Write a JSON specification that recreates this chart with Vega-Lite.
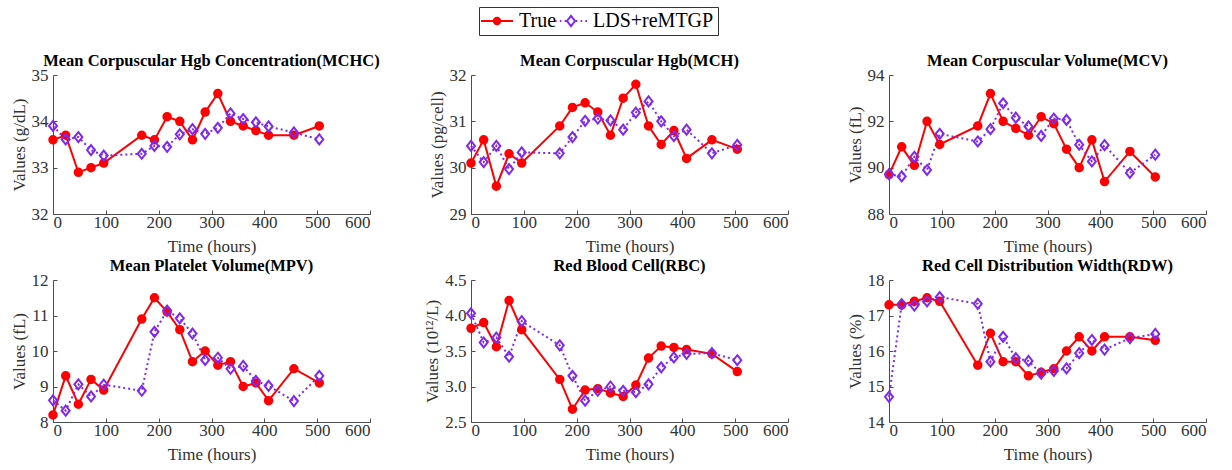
{
  "$schema": "https://vega.github.io/schema/vega-lite/v6.json",
  "padding": {"left": 10, "top": 6, "right": 5, "bottom": 5},
  "background": "white",
  "datasets": {
    "d": [
      {"m":"MCHC","t":0,"True":33.6,"LDS+reMTGP":33.9},
      {"m":"MCHC","t":24,"True":33.7,"LDS+reMTGP":33.61},
      {"m":"MCHC","t":48,"True":32.9,"LDS+reMTGP":33.66},
      {"m":"MCHC","t":72,"True":33.0,"LDS+reMTGP":33.38},
      {"m":"MCHC","t":96,"True":33.1,"LDS+reMTGP":33.26},
      {"m":"MCHC","t":168,"True":33.7,"LDS+reMTGP":33.3},
      {"m":"MCHC","t":192,"True":33.6,"LDS+reMTGP":33.47},
      {"m":"MCHC","t":216,"True":34.1,"LDS+reMTGP":33.45},
      {"m":"MCHC","t":240,"True":34.0,"LDS+reMTGP":33.72},
      {"m":"MCHC","t":264,"True":33.6,"LDS+reMTGP":33.83},
      {"m":"MCHC","t":288,"True":34.2,"LDS+reMTGP":33.73},
      {"m":"MCHC","t":312,"True":34.6,"LDS+reMTGP":33.86},
      {"m":"MCHC","t":336,"True":34.0,"LDS+reMTGP":34.17},
      {"m":"MCHC","t":360,"True":33.9,"LDS+reMTGP":34.05},
      {"m":"MCHC","t":384,"True":33.8,"LDS+reMTGP":33.98},
      {"m":"MCHC","t":408,"True":33.7,"LDS+reMTGP":33.89},
      {"m":"MCHC","t":456,"True":33.7,"LDS+reMTGP":33.76},
      {"m":"MCHC","t":504,"True":33.9,"LDS+reMTGP":33.61},
      {"m":"MCH","t":0,"True":30.1,"LDS+reMTGP":30.47},
      {"m":"MCH","t":24,"True":30.6,"LDS+reMTGP":30.12},
      {"m":"MCH","t":48,"True":29.6,"LDS+reMTGP":30.47},
      {"m":"MCH","t":72,"True":30.3,"LDS+reMTGP":29.97},
      {"m":"MCH","t":96,"True":30.1,"LDS+reMTGP":30.33},
      {"m":"MCH","t":168,"True":30.9,"LDS+reMTGP":30.31},
      {"m":"MCH","t":192,"True":31.3,"LDS+reMTGP":30.66},
      {"m":"MCH","t":216,"True":31.4,"LDS+reMTGP":31.01},
      {"m":"MCH","t":240,"True":31.2,"LDS+reMTGP":31.06},
      {"m":"MCH","t":264,"True":30.7,"LDS+reMTGP":31.02},
      {"m":"MCH","t":288,"True":31.5,"LDS+reMTGP":30.82},
      {"m":"MCH","t":312,"True":31.8,"LDS+reMTGP":31.19},
      {"m":"MCH","t":336,"True":30.9,"LDS+reMTGP":31.43},
      {"m":"MCH","t":360,"True":30.5,"LDS+reMTGP":31.0},
      {"m":"MCH","t":384,"True":30.8,"LDS+reMTGP":30.68},
      {"m":"MCH","t":408,"True":30.2,"LDS+reMTGP":30.82},
      {"m":"MCH","t":456,"True":30.6,"LDS+reMTGP":30.31},
      {"m":"MCH","t":504,"True":30.4,"LDS+reMTGP":30.49},
      {"m":"MCV","t":0,"True":89.7,"LDS+reMTGP":89.72},
      {"m":"MCV","t":24,"True":90.9,"LDS+reMTGP":89.62},
      {"m":"MCV","t":48,"True":90.1,"LDS+reMTGP":90.47},
      {"m":"MCV","t":72,"True":92.0,"LDS+reMTGP":89.9},
      {"m":"MCV","t":96,"True":91.0,"LDS+reMTGP":91.46},
      {"m":"MCV","t":168,"True":91.8,"LDS+reMTGP":91.13},
      {"m":"MCV","t":192,"True":93.2,"LDS+reMTGP":91.66},
      {"m":"MCV","t":216,"True":92.0,"LDS+reMTGP":92.78},
      {"m":"MCV","t":240,"True":91.7,"LDS+reMTGP":92.16},
      {"m":"MCV","t":264,"True":91.4,"LDS+reMTGP":91.78},
      {"m":"MCV","t":288,"True":92.2,"LDS+reMTGP":91.37},
      {"m":"MCV","t":312,"True":91.9,"LDS+reMTGP":92.12},
      {"m":"MCV","t":336,"True":90.8,"LDS+reMTGP":92.06},
      {"m":"MCV","t":360,"True":90.0,"LDS+reMTGP":90.99},
      {"m":"MCV","t":384,"True":91.2,"LDS+reMTGP":90.27},
      {"m":"MCV","t":408,"True":89.4,"LDS+reMTGP":90.97},
      {"m":"MCV","t":456,"True":90.7,"LDS+reMTGP":89.77},
      {"m":"MCV","t":504,"True":89.6,"LDS+reMTGP":90.56},
      {"m":"MPV","t":0,"True":8.2,"LDS+reMTGP":8.61},
      {"m":"MPV","t":24,"True":9.3,"LDS+reMTGP":8.32},
      {"m":"MPV","t":48,"True":8.5,"LDS+reMTGP":9.06},
      {"m":"MPV","t":72,"True":9.2,"LDS+reMTGP":8.72},
      {"m":"MPV","t":96,"True":8.9,"LDS+reMTGP":9.05},
      {"m":"MPV","t":168,"True":10.9,"LDS+reMTGP":8.88},
      {"m":"MPV","t":192,"True":11.5,"LDS+reMTGP":10.54},
      {"m":"MPV","t":216,"True":11.1,"LDS+reMTGP":11.14},
      {"m":"MPV","t":240,"True":10.6,"LDS+reMTGP":10.92},
      {"m":"MPV","t":264,"True":9.7,"LDS+reMTGP":10.49},
      {"m":"MPV","t":288,"True":10.0,"LDS+reMTGP":9.75},
      {"m":"MPV","t":312,"True":9.6,"LDS+reMTGP":9.81},
      {"m":"MPV","t":336,"True":9.7,"LDS+reMTGP":9.5},
      {"m":"MPV","t":360,"True":9.0,"LDS+reMTGP":9.58},
      {"m":"MPV","t":384,"True":9.1,"LDS+reMTGP":9.16},
      {"m":"MPV","t":408,"True":8.6,"LDS+reMTGP":9.02},
      {"m":"MPV","t":456,"True":9.5,"LDS+reMTGP":8.59},
      {"m":"MPV","t":504,"True":9.1,"LDS+reMTGP":9.3},
      {"m":"RBC","t":0,"True":3.82,"LDS+reMTGP":4.03},
      {"m":"RBC","t":24,"True":3.9,"LDS+reMTGP":3.62},
      {"m":"RBC","t":48,"True":3.56,"LDS+reMTGP":3.69},
      {"m":"RBC","t":72,"True":4.21,"LDS+reMTGP":3.42},
      {"m":"RBC","t":96,"True":3.8,"LDS+reMTGP":3.92},
      {"m":"RBC","t":168,"True":3.1,"LDS+reMTGP":3.58},
      {"m":"RBC","t":192,"True":2.68,"LDS+reMTGP":3.15},
      {"m":"RBC","t":216,"True":2.95,"LDS+reMTGP":2.8},
      {"m":"RBC","t":240,"True":2.97,"LDS+reMTGP":2.94},
      {"m":"RBC","t":264,"True":2.91,"LDS+reMTGP":3.0},
      {"m":"RBC","t":288,"True":2.86,"LDS+reMTGP":2.94},
      {"m":"RBC","t":312,"True":3.02,"LDS+reMTGP":2.92},
      {"m":"RBC","t":336,"True":3.4,"LDS+reMTGP":3.03},
      {"m":"RBC","t":360,"True":3.57,"LDS+reMTGP":3.27},
      {"m":"RBC","t":384,"True":3.55,"LDS+reMTGP":3.41},
      {"m":"RBC","t":408,"True":3.52,"LDS+reMTGP":3.46},
      {"m":"RBC","t":456,"True":3.46,"LDS+reMTGP":3.47},
      {"m":"RBC","t":504,"True":3.21,"LDS+reMTGP":3.37},
      {"m":"RDW","t":0,"True":17.3,"LDS+reMTGP":14.71},
      {"m":"RDW","t":24,"True":17.3,"LDS+reMTGP":17.32},
      {"m":"RDW","t":48,"True":17.4,"LDS+reMTGP":17.28},
      {"m":"RDW","t":72,"True":17.5,"LDS+reMTGP":17.4},
      {"m":"RDW","t":96,"True":17.4,"LDS+reMTGP":17.52},
      {"m":"RDW","t":168,"True":15.6,"LDS+reMTGP":17.33},
      {"m":"RDW","t":192,"True":16.5,"LDS+reMTGP":15.7},
      {"m":"RDW","t":216,"True":15.7,"LDS+reMTGP":16.4},
      {"m":"RDW","t":240,"True":15.7,"LDS+reMTGP":15.8},
      {"m":"RDW","t":264,"True":15.3,"LDS+reMTGP":15.72},
      {"m":"RDW","t":288,"True":15.4,"LDS+reMTGP":15.36},
      {"m":"RDW","t":312,"True":15.5,"LDS+reMTGP":15.44},
      {"m":"RDW","t":336,"True":16.0,"LDS+reMTGP":15.51},
      {"m":"RDW","t":360,"True":16.4,"LDS+reMTGP":15.94},
      {"m":"RDW","t":384,"True":16.0,"LDS+reMTGP":16.31},
      {"m":"RDW","t":408,"True":16.4,"LDS+reMTGP":16.04},
      {"m":"RDW","t":456,"True":16.4,"LDS+reMTGP":16.36},
      {"m":"RDW","t":504,"True":16.3,"LDS+reMTGP":16.48}
    ]
  },
  "data": {"name": "d"},
  "columns": 3,
  "spacing": {"row": 66, "column": 101},
  "bounds": "flush",
  "resolve": {"scale": {"y": "independent"}},
  "config": {
    "font": "Liberation Serif",
    "view": {"stroke": null},
    "axis": {
      "grid": false,
      "domainColor": "#4d4d4d",
      "tickColor": "#4d4d4d",
      "tickSize": -4,
      "labelFont": "Liberation Serif",
      "labelFontSize": 17,
      "labelColor": "#333333",
      "titleFont": "Liberation Serif",
      "titleFontSize": 17,
      "titleFontWeight": "normal",
      "titleColor": "#333333"
    },
    "axisX": {"labelPadding": 4, "titlePadding": 8},
    "axisY": {"titlePadding": 3, "labelPadding": 9},
    "title": {"font": "Liberation Serif", "fontSize": 16.5, "fontWeight": "bold", "color": "#000000", "offset": -3, "anchor": "middle"},
    "legend": {
      "labelFont": "Liberation Serif",
      "labelFontSize": 20,
      "labelColor": "#000000"
    }
  },
  "concat": [
    {
      "title": "Mean Corpuscular Hgb Concentration(MCHC)",
      "width": 317, "height": 139,
      "transform": [{"filter": "datum.m === 'MCHC'"}, {"fold": ["True", "LDS+reMTGP"], "as": ["series", "v"]}],
      "encoding": {
        "x": {"field": "t", "type": "quantitative", "scale": {"domain": [0, 600], "nice": false}, "axis": {"values": [0,100,200,300,400,500,600], "title": "Time (hours)"}},
        "y": {"field": "v", "type": "quantitative", "scale": {"domain": [32, 35], "nice": false, "zero": false}, "axis": {"values": [32,33,34,35], "title": "Values (g/dL)"}}
      },
      "layer": [
        {"transform": [{"filter": "datum.series === 'True'"}], "mark": {"type": "line", "color": "#ff0000", "strokeWidth": 2}, "encoding": {}},
        {"transform": [{"filter": "datum.series === 'LDS+reMTGP'"}], "mark": {"type": "line", "color": "#7f28f0", "strokeWidth": 2, "strokeDash": [2, 3]}, "encoding": {}},
        {"transform": [{"filter": "datum.series === 'True'"}], "mark": {"type": "point", "shape": "circle", "filled": true, "color": "#ff0000", "stroke": "#ff0000", "strokeWidth": 2, "size": 56, "opacity": 1}},
        {"transform": [{"filter": "datum.series === 'LDS+reMTGP'"}], "mark": {"type": "point", "shape": "M0,-1L0.8,0L0,1L-0.8,0Z", "filled": false, "color": "#7f28f0", "strokeWidth": 2, "size": 100, "opacity": 1}},
        {"mark": {"type": "point", "filled": false, "strokeWidth": 2, "opacity": 0},
         "encoding": {
           "color": {"field": "series", "type": "nominal", "scale": {"domain": ["True", "LDS+reMTGP"], "range": ["#ff0000", "#7f28f0"]},
             "legend": {"title": null, "orient": "none", "direction": "horizontal", "legendX": 426, "legendY": -68,
               "symbolSize": 256, "symbolStrokeWidth": 2, "symbolOpacity": 1, "symbolOffset": 4, "labelOffset": 12, "columnPadding": -18, "padding": 4,
               "strokeColor": "#333333", "fillColor": "white"}},
           "fill": {"field": "series", "type": "nominal", "scale": {"domain": ["True", "LDS+reMTGP"], "range": ["#ff0000", "transparent"]}, "legend": null},
           "shape": {"field": "series", "type": "nominal", "scale": {"domain": ["True", "LDS+reMTGP"], "range": ["M-2,0H-0.4M0.4,0H2M0.4,0A0.4,0.4,0,1,1,-0.4,0A0.4,0.4,0,1,1,0.4,0Z", "M-2,0H-1.8M-1.4,0H-1.2M-0.8,0H-0.6M0.6,0H0.8M1.2,0H1.4M1.8,0H2M0,-0.65L0.5,0L0,0.65L-0.5,0Z"]}, "legend": null}
         }}
      ]
    },
    {
      "title": "Mean Corpuscular Hgb(MCH)",
      "width": 317, "height": 139,
      "transform": [{"filter": "datum.m === 'MCH'"}, {"fold": ["True", "LDS+reMTGP"], "as": ["series", "v"]}],
      "encoding": {
        "x": {"field": "t", "type": "quantitative", "scale": {"domain": [0, 600], "nice": false}, "axis": {"values": [0,100,200,300,400,500,600], "title": "Time (hours)"}},
        "y": {"field": "v", "type": "quantitative", "scale": {"domain": [29, 32], "nice": false, "zero": false}, "axis": {"values": [29,30,31,32], "title": "Values (pg/cell)"}}
      },
      "layer": [
        {"transform": [{"filter": "datum.series === 'True'"}], "mark": {"type": "line", "color": "#ff0000", "strokeWidth": 2}, "encoding": {}},
        {"transform": [{"filter": "datum.series === 'LDS+reMTGP'"}], "mark": {"type": "line", "color": "#7f28f0", "strokeWidth": 2, "strokeDash": [2, 3]}, "encoding": {}},
        {"transform": [{"filter": "datum.series === 'True'"}], "mark": {"type": "point", "shape": "circle", "filled": true, "color": "#ff0000", "stroke": "#ff0000", "strokeWidth": 2, "size": 56, "opacity": 1}},
        {"transform": [{"filter": "datum.series === 'LDS+reMTGP'"}], "mark": {"type": "point", "shape": "M0,-1L0.8,0L0,1L-0.8,0Z", "filled": false, "color": "#7f28f0", "strokeWidth": 2, "size": 100, "opacity": 1}}
      ]
    },
    {
      "title": "Mean Corpuscular Volume(MCV)",
      "width": 317, "height": 139,
      "transform": [{"filter": "datum.m === 'MCV'"}, {"fold": ["True", "LDS+reMTGP"], "as": ["series", "v"]}],
      "encoding": {
        "x": {"field": "t", "type": "quantitative", "scale": {"domain": [0, 600], "nice": false}, "axis": {"values": [0,100,200,300,400,500,600], "title": "Time (hours)"}},
        "y": {"field": "v", "type": "quantitative", "scale": {"domain": [88, 94], "nice": false, "zero": false}, "axis": {"values": [88,90,92,94], "title": "Values (fL)"}}
      },
      "layer": [
        {"transform": [{"filter": "datum.series === 'True'"}], "mark": {"type": "line", "color": "#ff0000", "strokeWidth": 2}, "encoding": {}},
        {"transform": [{"filter": "datum.series === 'LDS+reMTGP'"}], "mark": {"type": "line", "color": "#7f28f0", "strokeWidth": 2, "strokeDash": [2, 3]}, "encoding": {}},
        {"transform": [{"filter": "datum.series === 'True'"}], "mark": {"type": "point", "shape": "circle", "filled": true, "color": "#ff0000", "stroke": "#ff0000", "strokeWidth": 2, "size": 56, "opacity": 1}},
        {"transform": [{"filter": "datum.series === 'LDS+reMTGP'"}], "mark": {"type": "point", "shape": "M0,-1L0.8,0L0,1L-0.8,0Z", "filled": false, "color": "#7f28f0", "strokeWidth": 2, "size": 100, "opacity": 1}}
      ]
    },
    {
      "title": "Mean Platelet Volume(MPV)",
      "width": 317, "height": 142,
      "transform": [{"filter": "datum.m === 'MPV'"}, {"fold": ["True", "LDS+reMTGP"], "as": ["series", "v"]}],
      "encoding": {
        "x": {"field": "t", "type": "quantitative", "scale": {"domain": [0, 600], "nice": false}, "axis": {"values": [0,100,200,300,400,500,600], "title": "Time (hours)"}},
        "y": {"field": "v", "type": "quantitative", "scale": {"domain": [8, 12], "nice": false, "zero": false}, "axis": {"values": [8,9,10,11,12], "title": "Values (fL)"}}
      },
      "layer": [
        {"transform": [{"filter": "datum.series === 'True'"}], "mark": {"type": "line", "color": "#ff0000", "strokeWidth": 2}, "encoding": {}},
        {"transform": [{"filter": "datum.series === 'LDS+reMTGP'"}], "mark": {"type": "line", "color": "#7f28f0", "strokeWidth": 2, "strokeDash": [2, 3]}, "encoding": {}},
        {"transform": [{"filter": "datum.series === 'True'"}], "mark": {"type": "point", "shape": "circle", "filled": true, "color": "#ff0000", "stroke": "#ff0000", "strokeWidth": 2, "size": 56, "opacity": 1}},
        {"transform": [{"filter": "datum.series === 'LDS+reMTGP'"}], "mark": {"type": "point", "shape": "M0,-1L0.8,0L0,1L-0.8,0Z", "filled": false, "color": "#7f28f0", "strokeWidth": 2, "size": 100, "opacity": 1}}
      ]
    },
    {
      "title": "Red Blood Cell(RBC)",
      "width": 317, "height": 142,
      "transform": [{"filter": "datum.m === 'RBC'"}, {"fold": ["True", "LDS+reMTGP"], "as": ["series", "v"]}],
      "encoding": {
        "x": {"field": "t", "type": "quantitative", "scale": {"domain": [0, 600], "nice": false}, "axis": {"values": [0,100,200,300,400,500,600], "title": "Time (hours)"}},
        "y": {"field": "v", "type": "quantitative", "scale": {"domain": [2.5, 4.5], "nice": false, "zero": false}, "axis": {"values": [2.5,3,3.5,4,4.5], "title": "Values (10¹²/L)"}}
      },
      "layer": [
        {"transform": [{"filter": "datum.series === 'True'"}], "mark": {"type": "line", "color": "#ff0000", "strokeWidth": 2}, "encoding": {}},
        {"transform": [{"filter": "datum.series === 'LDS+reMTGP'"}], "mark": {"type": "line", "color": "#7f28f0", "strokeWidth": 2, "strokeDash": [2, 3]}, "encoding": {}},
        {"transform": [{"filter": "datum.series === 'True'"}], "mark": {"type": "point", "shape": "circle", "filled": true, "color": "#ff0000", "stroke": "#ff0000", "strokeWidth": 2, "size": 56, "opacity": 1}},
        {"transform": [{"filter": "datum.series === 'LDS+reMTGP'"}], "mark": {"type": "point", "shape": "M0,-1L0.8,0L0,1L-0.8,0Z", "filled": false, "color": "#7f28f0", "strokeWidth": 2, "size": 100, "opacity": 1}}
      ]
    },
    {
      "title": "Red Cell Distribution Width(RDW)",
      "width": 317, "height": 142,
      "transform": [{"filter": "datum.m === 'RDW'"}, {"fold": ["True", "LDS+reMTGP"], "as": ["series", "v"]}],
      "encoding": {
        "x": {"field": "t", "type": "quantitative", "scale": {"domain": [0, 600], "nice": false}, "axis": {"values": [0,100,200,300,400,500,600], "title": "Time (hours)"}},
        "y": {"field": "v", "type": "quantitative", "scale": {"domain": [14, 18], "nice": false, "zero": false}, "axis": {"values": [14,15,16,17,18], "title": "Values (%)"}}
      },
      "layer": [
        {"transform": [{"filter": "datum.series === 'True'"}], "mark": {"type": "line", "color": "#ff0000", "strokeWidth": 2}, "encoding": {}},
        {"transform": [{"filter": "datum.series === 'LDS+reMTGP'"}], "mark": {"type": "line", "color": "#7f28f0", "strokeWidth": 2, "strokeDash": [2, 3]}, "encoding": {}},
        {"transform": [{"filter": "datum.series === 'True'"}], "mark": {"type": "point", "shape": "circle", "filled": true, "color": "#ff0000", "stroke": "#ff0000", "strokeWidth": 2, "size": 56, "opacity": 1}},
        {"transform": [{"filter": "datum.series === 'LDS+reMTGP'"}], "mark": {"type": "point", "shape": "M0,-1L0.8,0L0,1L-0.8,0Z", "filled": false, "color": "#7f28f0", "strokeWidth": 2, "size": 100, "opacity": 1}}
      ]
    }
  ]
}
